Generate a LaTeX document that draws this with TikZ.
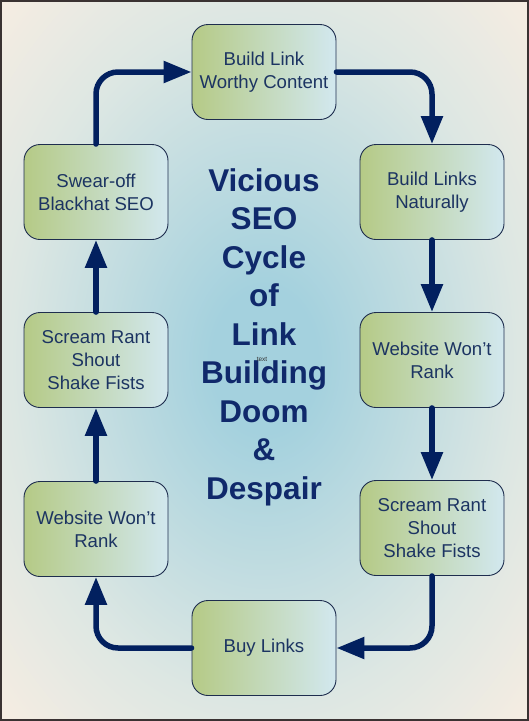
\documentclass[tikz,border=0pt]{standalone}
\usepackage{fontspec}
\setmainfont{Liberation Sans}
\usetikzlibrary{arrows.meta}
\definecolor{bgin}{HTML}{A4D1DE}
\definecolor{bgmid}{HTML}{DDE7E3}
\definecolor{bgout}{HTML}{FCEEE2}
\definecolor{boxL}{HTML}{B5CA86}
\definecolor{boxR}{HTML}{D2E8EF}
\definecolor{boxline}{HTML}{1E2D4E}
\definecolor{boxtext}{HTML}{1C3462}
\definecolor{titletext}{HTML}{10296B}
\definecolor{arrowc}{HTML}{02205F}
\definecolor{frame}{HTML}{3A3232}
\pgfdeclareradialshading{bgshade}{\pgfpoint{0bp}{0bp}}{%
  color(0bp)=(bgin); color(5bp)=(bgin); color(24bp)=(bgmid); color(38bp)=(bgout); color(80bp)=(bgout)}
\tikzset{
  stepbox/.style={draw=boxline, line width=0.9pt, rounded corners=16pt,
    left color=boxL, right color=boxR,
    minimum width=144pt, minimum height=95pt, inner sep=0pt,
    align=center, text=boxtext,
    font=\fontsize{18.6}{23}\selectfont},
  flow/.style={draw=arrowc, line width=5.5pt, line cap=round, rounded corners=22pt,
    -{Triangle[length=28pt,width=21pt]}},
}
\begin{document}
\begin{tikzpicture}[x=1pt,y=-1pt]
\useasboundingbox (0,0) rectangle (529,721);
\shade[shading=bgshade] (0,0) rectangle (529,721);
\draw[frame, line width=2pt] (1,1) rectangle (527.5,719.5);

\node[stepbox] (n1) at (264,72) {Build Link\\Worthy Content};
\node[stepbox] (n2) at (432,192) {Build Links\\Naturally};
\node[stepbox] (n3) at (432,360) {Website Won’t\\Rank};
\node[stepbox] (n4) at (432,528) {Scream Rant\\Shout\\Shake Fists};
\node[stepbox] (n5) at (264,648) {Buy Links};
\node[stepbox] (n6) at (96,529) {Website Won’t\\Rank};
\node[stepbox] (n7) at (96,360) {Scream Rant\\Shout\\Shake Fists};
\node[stepbox] (n8) at (96,192) {Swear-off\\Blackhat SEO};

\node[align=center, text=titletext, font=\fontsize{31.5}{38.5}\selectfont\bfseries] (title) at (264,337)
  {Vicious\\SEO\\Cycle\\of\\Link\\Building\\Doom\\\&\\Despair};
\node[font=\fontsize{6.5}{7}\selectfont, text=black!80, inner sep=0pt] (lbl) at (262,359) {text};

\draw[flow] (n1.east) -| (n2.north);
\draw[flow] (n2.south) -- (n3.north);
\draw[flow] (n3.south) -- (n4.north);
\draw[flow] (n4.south) |- (n5.east);
\draw[flow] (n5.west) -| (n6.south);
\draw[flow] (n6.north) -- (n7.south);
\draw[flow] (n7.north) -- (n8.south);
\draw[flow] (n8.north) |- (n1.west);
\end{tikzpicture}
\end{document}
